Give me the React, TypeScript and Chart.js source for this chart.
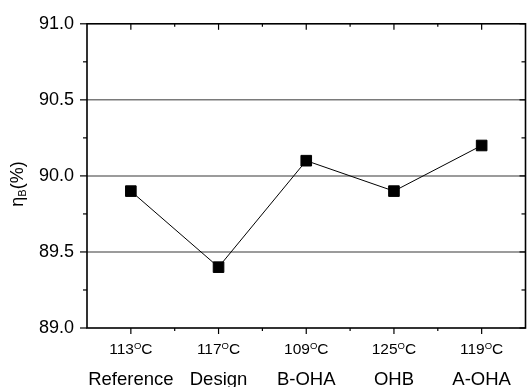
import { useEffect, useRef } from 'react';
import { Chart, registerables } from 'chart.js';

Chart.register(...registerables);

const temperatures = ['113', '117', '109', '125', '119'];
const designs = ['Reference', 'Design', 'B-OHA', 'OHB', 'A-OHA'];
const etaB = [89.9, 89.4, 90.1, 89.9, 90.2];
const yMin = 89.0;
const yMax = 91.0;
const yStep = 0.5;
const gridValues = [89.5, 90.0, 90.5];
const yTitleMain = 'η';
const yTitleSub = 'B';
const yTitleTail = '(%)';
const degreeMark = 'O';
const unit = 'C';

const FONT = '"Liberation Sans", Arial, Helvetica, sans-serif';

function seg(ctx: CanvasRenderingContext2D, x1: number, y1: number, x2: number, y2: number) {
  ctx.beginPath();
  ctx.moveTo(x1, y1);
  ctx.lineTo(x2, y2);
  ctx.stroke();
}

const decorPlugin = {
  id: 'decor',
  beforeDatasetsDraw(chart: any) {
    const { ctx, chartArea: a, scales } = chart;
    const x = scales.x;
    const y = scales.y;
    ctx.save();
    // grid lines
    ctx.strokeStyle = '#7a7a7a';
    ctx.lineWidth = 1.5;
    gridValues.forEach((v) => {
      const py = y.getPixelForValue(v);
      seg(ctx, a.left, py, a.right, py);
    });
    // frame
    ctx.strokeStyle = '#000';
    ctx.lineWidth = 1.6;
    ctx.strokeRect(a.left, a.top, a.right - a.left, a.bottom - a.top);
    // y ticks
    ctx.lineWidth = 1.2;
    const yt: number[] = y.ticks.map((t: any) => t.value);
    yt.forEach((v, i) => {
      const py = y.getPixelForValue(v);
      seg(ctx, a.left - 7, py, a.left, py);
      seg(ctx, a.right - 6, py, a.right, py);
      if (i < yt.length - 1) {
        const pm = y.getPixelForValue((v + yt[i + 1]) / 2);
        seg(ctx, a.left - 4, pm, a.left, pm);
        seg(ctx, a.right - 4, pm, a.right, pm);
      }
    });
    // x ticks
    const n = designs.length;
    for (let i = 0; i < n; i++) {
      const px = x.getPixelForTick(i);
      seg(ctx, px, a.bottom, px, a.bottom + 6);
      seg(ctx, px, a.top, px, a.top + 6);
      if (i < n - 1) {
        const pm = (px + x.getPixelForTick(i + 1)) / 2;
        seg(ctx, pm, a.bottom, pm, a.bottom + 3);
        seg(ctx, pm, a.top, pm, a.top + 3);
      }
    }
    ctx.restore();
  },
  afterDraw(chart: any) {
    const { ctx, scales } = chart;
    const x = scales.x;
    ctx.save();
    ctx.fillStyle = '#000';
    ctx.textBaseline = 'alphabetic';
    ctx.textAlign = 'left';
    const big = `15.5px ${FONT}`;
    const sup = `9.5px ${FONT}`;
    const name = `18.5px ${FONT}`;
    for (let i = 0; i < designs.length; i++) {
      const px = x.getPixelForTick(i);
      ctx.font = big;
      const w1 = ctx.measureText(temperatures[i]).width;
      const w3 = ctx.measureText(unit).width;
      ctx.font = sup;
      const w2 = ctx.measureText(degreeMark).width;
      let sx = px - (w1 + w2 + w3) / 2;
      ctx.font = big;
      ctx.fillText(temperatures[i], sx, 354);
      sx += w1;
      ctx.font = sup;
      ctx.fillText(degreeMark, sx, 349);
      sx += w2;
      ctx.font = big;
      ctx.fillText(unit, sx, 354);
      ctx.font = name;
      ctx.textAlign = 'center';
      ctx.fillText(designs[i], px, 385);
      ctx.textAlign = 'left';
    }
    // y title
    ctx.translate(23, 184);
    ctx.rotate(-Math.PI / 2);
    const main = `18px ${FONT}`;
    const sub = `11px ${FONT}`;
    ctx.font = main;
    const m1 = ctx.measureText(yTitleMain).width;
    const m3 = ctx.measureText(yTitleTail).width;
    ctx.font = sub;
    const m2 = ctx.measureText(yTitleSub).width;
    let tx = -(m1 + m2 + m3) / 2;
    ctx.font = main;
    ctx.fillText(yTitleMain, tx, 0);
    tx += m1;
    ctx.font = sub;
    ctx.fillText(yTitleSub, tx, 3);
    tx += m2;
    ctx.font = main;
    ctx.fillText(yTitleTail, tx, 0);
    ctx.restore();
  },
};

export default function App() {
  const ref = useRef<HTMLCanvasElement | null>(null);
  useEffect(() => {
    if (!ref.current) return;
    const chart = new Chart(ref.current, {
      type: 'line',
      data: {
        labels: designs,
        datasets: [
          {
            data: etaB,
            borderColor: '#000',
            borderWidth: 1,
            backgroundColor: '#000',
            pointStyle: 'rect',
            pointRadius: 7.5,
            pointBorderWidth: 1,
            pointBorderColor: '#000',
            pointBackgroundColor: '#000',
            tension: 0,
            clip: false as any,
          },
        ],
      },
      options: {
        responsive: false,
        animation: false,
        layout: { padding: { left: 0, right: 2, top: 18, bottom: 0 } },
        plugins: {
          legend: { display: false },
          tooltip: { enabled: false },
        },
        scales: {
          x: {
            type: 'category',
            offset: true,
            grid: { display: false, drawTicks: false },
            border: { display: false },
            ticks: { display: false },
            afterFit: (s: any) => {
              s.height = 59;
            },
          },
          y: {
            min: yMin,
            max: yMax,
            grid: { display: false, drawTicks: false },
            border: { display: false },
            ticks: {
              stepSize: yStep,
              padding: 13,
              color: '#000',
              font: { family: FONT, size: 18 },
              callback: (v: any) => Number(v).toFixed(1),
            },
            afterFit: (s: any) => {
              s.width = 87;
            },
          },
        },
      },
      plugins: [decorPlugin],
    });
    return () => chart.destroy();
  }, []);
  return (
    <div
      style={{
        position: 'fixed',
        left: 0,
        top: 0,
        width: 530,
        height: 387,
        overflow: 'hidden',
        background: '#fff',
      }}
    >
      <canvas ref={ref} width={534} height={387} style={{ display: 'block' }} />
    </div>
  );
}
